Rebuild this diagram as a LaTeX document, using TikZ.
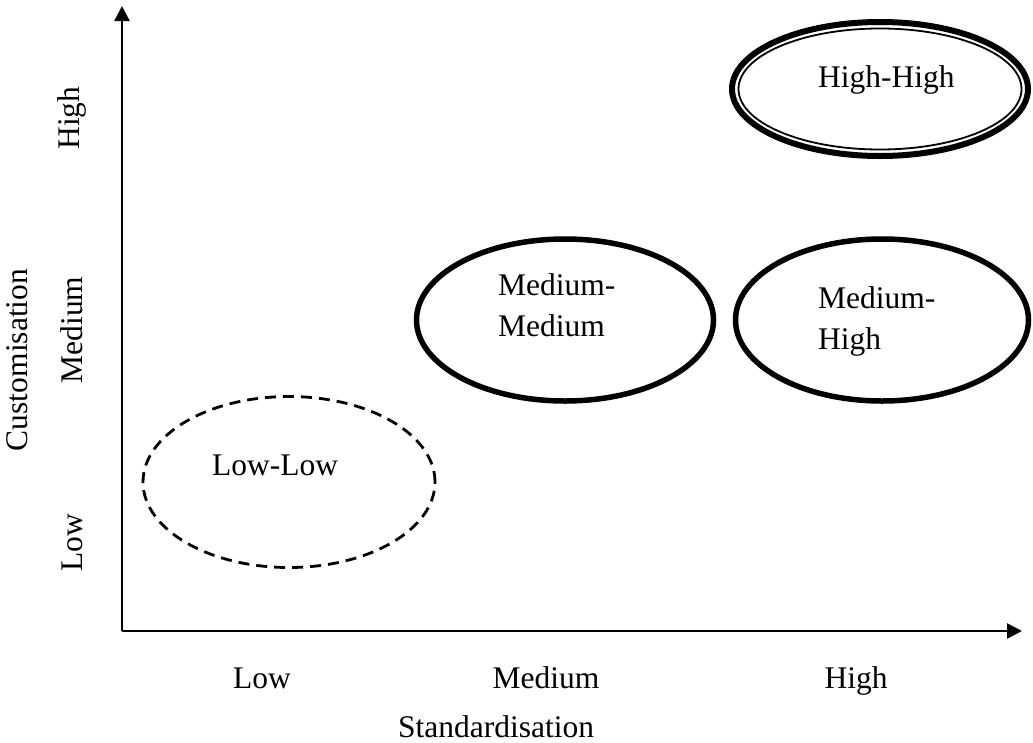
\documentclass[tikz,border=0pt]{standalone}
\usepackage{fontspec}
\setmainfont{Liberation Serif}
\usetikzlibrary{shapes.geometric,arrows.meta}
\begin{document}
\begin{tikzpicture}[x=1pt,y=-1pt,
  lbl/.style={inner sep=0pt, font=\fontsize{31.5}{41}\selectfont, align=left},
  oval/.style={ellipse, draw, inner sep=0pt, line width=5.5pt},
  dashoval/.style={ellipse, draw, inner sep=0pt, line width=2.8pt, dash pattern=on 11pt off 7pt},
  axisline/.style={line width=2.4pt, -{Triangle[length=15pt,width=15pt]}}]
\useasboundingbox (0,0) rectangle (1033,742);
% axes
\coordinate (O) at (122,631);
\coordinate (ytip) at (122,6);
\coordinate (xtip) at (1022,631);
\draw[axisline] (O) -- (ytip);
\draw[axisline] (O) -- (xtip);
% ellipses
\node[dashoval, minimum width=292, minimum height=171] (ll) at (289,482) {};
\node[oval, minimum width=297, minimum height=162] (mm) at (565,320) {};
\node[oval, minimum width=293, minimum height=162] (mh) at (882,320) {};
\node[ellipse, draw, inner sep=0pt, line width=6pt, minimum width=296, minimum height=134] (hh) at (880,89) {};
\node[ellipse, draw, inner sep=0pt, line width=1.8pt, minimum width=283, minimum height=121] (hhin) at (880,89) {};
% texts inside
\node[lbl, anchor=base west] (llt) at (212,475) {Low-Low};
\node[lbl, anchor=base west] (mmt) at (498,336) {Medium-\\Medium};
\node[lbl, anchor=base west] (mht) at (818,349) {Medium-\\High};
\node[lbl, anchor=base west] (hht) at (818,87) {High-High};
% x axis labels
\node[lbl, anchor=base] (xlow) at (262,688) {Low};
\node[lbl, anchor=base] (xmed) at (546,688) {Medium};
\node[lbl, anchor=base] (xhigh) at (856,688) {High};
\node[lbl, anchor=base] (xtitle) at (496,737) {Standardisation};
% y axis labels
\node[lbl, rotate=90] (yhigh) at (72,118) {High};
\node[lbl, rotate=90] (ymed) at (72,330) {Medium};
\node[lbl, rotate=90] (ylow) at (72,543) {Low};
\node[lbl, rotate=90] (ytitle) at (17,360) {Customisation};
\end{tikzpicture}
\end{document}
